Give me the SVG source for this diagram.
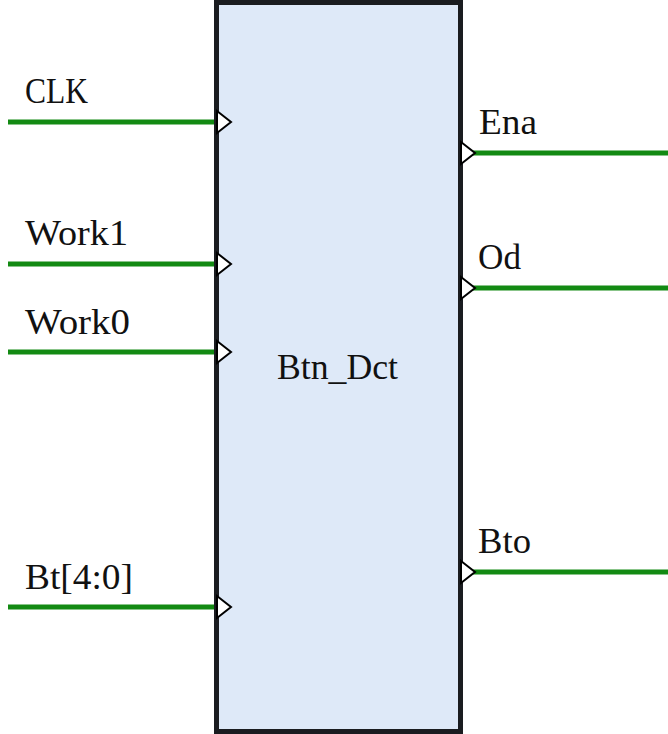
<svg xmlns="http://www.w3.org/2000/svg" width="668" height="734" viewBox="0 0 668 734">
<style>
.wire{stroke:#138a13;stroke-width:5;fill:none}
.pin{fill:#ffffff;stroke:#000000;stroke-width:2;stroke-linejoin:miter}
.lbl{font-family:"Liberation Serif","Times New Roman",serif;font-size:36px;fill:#111111}
</style>
<rect width="668" height="734" fill="#ffffff"/>
<g id="connectors">
<line class="wire" x1="8" y1="122" x2="216" y2="122"/>
<line class="wire" x1="8" y1="264" x2="216" y2="264"/>
<line class="wire" x1="8" y1="352" x2="216" y2="352"/>
<line class="wire" x1="8" y1="607" x2="216" y2="607"/>
<line class="wire" x1="462" y1="153" x2="668" y2="153"/>
<line class="wire" x1="462" y1="288" x2="668" y2="288"/>
<line class="wire" x1="462" y1="572" x2="668" y2="572"/>
</g>
<g id="Btn_Dct">
<rect x="216.5" y="2.5" width="244" height="729" fill="#dee9f8" stroke="#1a1c20" stroke-width="5"/>
<text class="lbl" x="277" y="379" textLength="121" lengthAdjust="spacingAndGlyphs">Btn_Dct</text>
</g>
<g id="CLK">
<polygon class="pin" points="217,111 231,122 217,133"/>
<text class="lbl" x="25" y="103" textLength="63" lengthAdjust="spacingAndGlyphs">CLK</text>
</g>
<g id="Work1">
<polygon class="pin" points="217,253 231,264 217,275"/>
<text class="lbl" x="25" y="245" textLength="103" lengthAdjust="spacingAndGlyphs">Work1</text>
</g>
<g id="Work0">
<polygon class="pin" points="217,341 231,352 217,363"/>
<text class="lbl" x="25" y="334" textLength="105" lengthAdjust="spacingAndGlyphs">Work0</text>
</g>
<g id="Bt">
<polygon class="pin" points="217,596 231,607 217,618"/>
<text class="lbl" x="25" y="589" textLength="108" lengthAdjust="spacingAndGlyphs">Bt[4:0]</text>
</g>
<g id="Ena">
<polygon class="pin" points="461,142 475,153 461,164"/>
<text class="lbl" x="479" y="134" textLength="58" lengthAdjust="spacingAndGlyphs">Ena</text>
</g>
<g id="Od">
<polygon class="pin" points="461,277 475,288 461,299"/>
<text class="lbl" x="478" y="269" textLength="43" lengthAdjust="spacingAndGlyphs">Od</text>
</g>
<g id="Bto">
<polygon class="pin" points="461,561 475,572 461,583"/>
<text class="lbl" x="478" y="553" textLength="53" lengthAdjust="spacingAndGlyphs">Bto</text>
</g>
</svg>
